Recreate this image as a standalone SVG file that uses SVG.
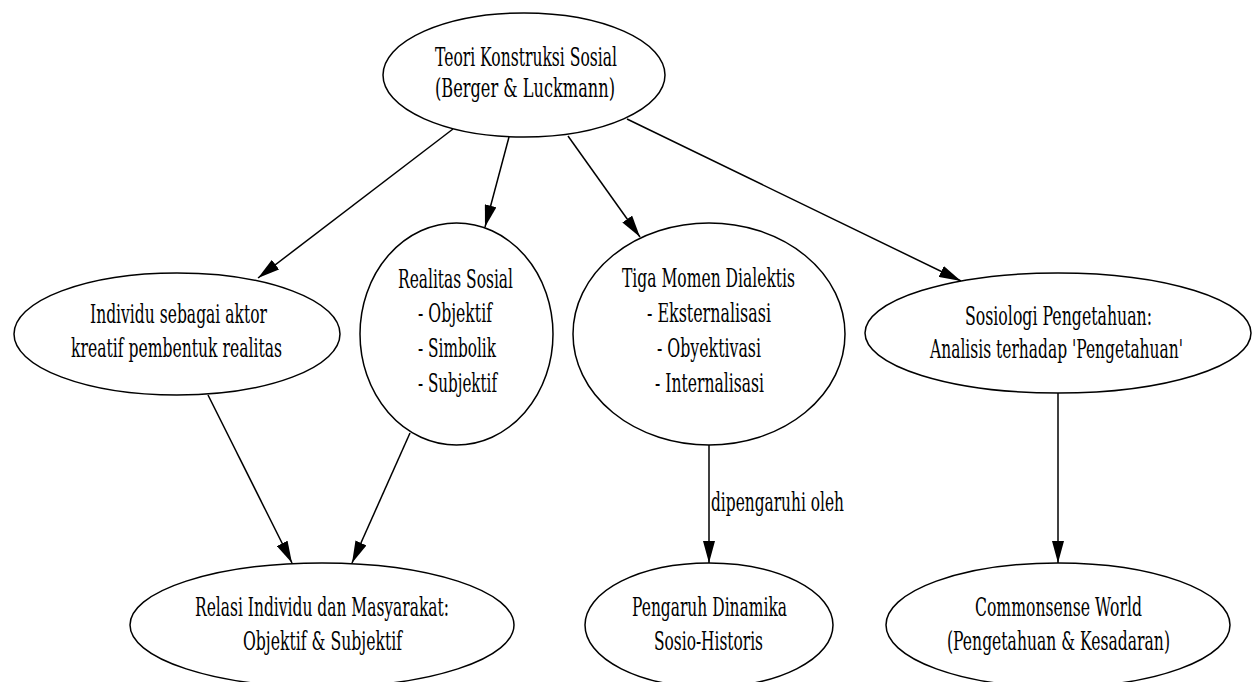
<svg xmlns="http://www.w3.org/2000/svg" width="1259" height="682" viewBox="0 0 1259 682">
<style>
.n{fill:#fff;stroke:#000;stroke-width:1.5}
.t{font-family:"DejaVu Serif","Liberation Serif",serif;font-size:26px;fill:#000;text-anchor:middle}
.e{stroke:#000;stroke-width:1.5;fill:none;marker-end:url(#ah)}
</style>
<defs>
<marker id="ah" markerUnits="userSpaceOnUse" markerWidth="22" markerHeight="12" viewBox="0 0 22 12" refX="22" refY="6" orient="auto">
<path d="M0,0 L22,6 L0,12 z" fill="#000"/>
</marker>
</defs>
<rect width="1259" height="682" fill="#fff"/>
<g id="edges">
<line class="e" x1="453" y1="129" x2="258" y2="278"/>
<line class="e" x1="509" y1="137" x2="485" y2="227"/>
<line class="e" x1="568" y1="136" x2="640" y2="237"/>
<line class="e" x1="627" y1="119" x2="961" y2="281"/>
<line class="e" x1="208" y1="395" x2="292" y2="563"/>
<line class="e" x1="410" y1="433" x2="352" y2="563"/>
<line class="e" x1="709" y1="445" x2="709" y2="563"/>
<line class="e" x1="1058" y1="393" x2="1058" y2="563"/>
<text class="t" style="text-anchor:start" x="711" y="511" textLength="133" lengthAdjust="spacingAndGlyphs">dipengaruhi oleh</text>
</g>
<g id="teori">
<ellipse class="n" cx="524" cy="75" rx="141" ry="62"/>
<text class="t" x="526" y="66" textLength="182" lengthAdjust="spacingAndGlyphs">Teori Konstruksi Sosial</text>
<text class="t" x="525" y="97" textLength="180" lengthAdjust="spacingAndGlyphs">(Berger &amp; Luckmann)</text>
</g>
<g id="individu">
<ellipse class="n" cx="177" cy="334" rx="163" ry="61"/>
<text class="t" x="178.5" y="323" textLength="177" lengthAdjust="spacingAndGlyphs">Individu sebagai aktor</text>
<text class="t" x="176.5" y="357" textLength="211" lengthAdjust="spacingAndGlyphs">kreatif pembentuk realitas</text>
</g>
<g id="realitas">
<ellipse class="n" cx="456.5" cy="334" rx="96.5" ry="111"/>
<text class="t" x="455.5" y="288" textLength="115" lengthAdjust="spacingAndGlyphs">Realitas Sosial</text>
<text class="t" x="455" y="322" textLength="74" lengthAdjust="spacingAndGlyphs">- Objektif</text>
<text class="t" x="457" y="357" textLength="78" lengthAdjust="spacingAndGlyphs">- Simbolik</text>
<text class="t" x="457.5" y="392" textLength="79" lengthAdjust="spacingAndGlyphs">- Subjektif</text>
</g>
<g id="tiga">
<ellipse class="n" cx="709" cy="334" rx="136" ry="111"/>
<text class="t" x="708.5" y="287" textLength="173" lengthAdjust="spacingAndGlyphs">Tiga Momen Dialektis</text>
<text class="t" x="709" y="322" textLength="124" lengthAdjust="spacingAndGlyphs">- Eksternalisasi</text>
<text class="t" x="709" y="357" textLength="104" lengthAdjust="spacingAndGlyphs">- Obyektivasi</text>
<text class="t" x="709.5" y="392" textLength="109" lengthAdjust="spacingAndGlyphs">- Internalisasi</text>
</g>
<g id="sosiologi">
<ellipse class="n" cx="1058" cy="333" rx="193" ry="60"/>
<text class="t" x="1058.5" y="325" textLength="187" lengthAdjust="spacingAndGlyphs">Sosiologi Pengetahuan:</text>
<text class="t" x="1056.5" y="358" textLength="253" lengthAdjust="spacingAndGlyphs">Analisis terhadap 'Pengetahuan'</text>
</g>
<g id="relasi">
<ellipse class="n" cx="322" cy="625" rx="192" ry="62"/>
<text class="t" x="322" y="616" textLength="254" lengthAdjust="spacingAndGlyphs">Relasi Individu dan Masyarakat:</text>
<text class="t" x="322.5" y="650" textLength="159" lengthAdjust="spacingAndGlyphs">Objektif &amp; Subjektif</text>
</g>
<g id="pengaruh">
<ellipse class="n" cx="709" cy="625" rx="124" ry="62"/>
<text class="t" x="709.5" y="616" textLength="155" lengthAdjust="spacingAndGlyphs">Pengaruh Dinamika</text>
<text class="t" x="708.5" y="650" textLength="109" lengthAdjust="spacingAndGlyphs">Sosio-Historis</text>
</g>
<g id="commonsense">
<ellipse class="n" cx="1058" cy="625" rx="172" ry="62"/>
<text class="t" x="1058.5" y="616" textLength="167" lengthAdjust="spacingAndGlyphs">Commonsense World</text>
<text class="t" x="1058.5" y="650" textLength="223" lengthAdjust="spacingAndGlyphs">(Pengetahuan &amp; Kesadaran)</text>
</g>
</svg>
